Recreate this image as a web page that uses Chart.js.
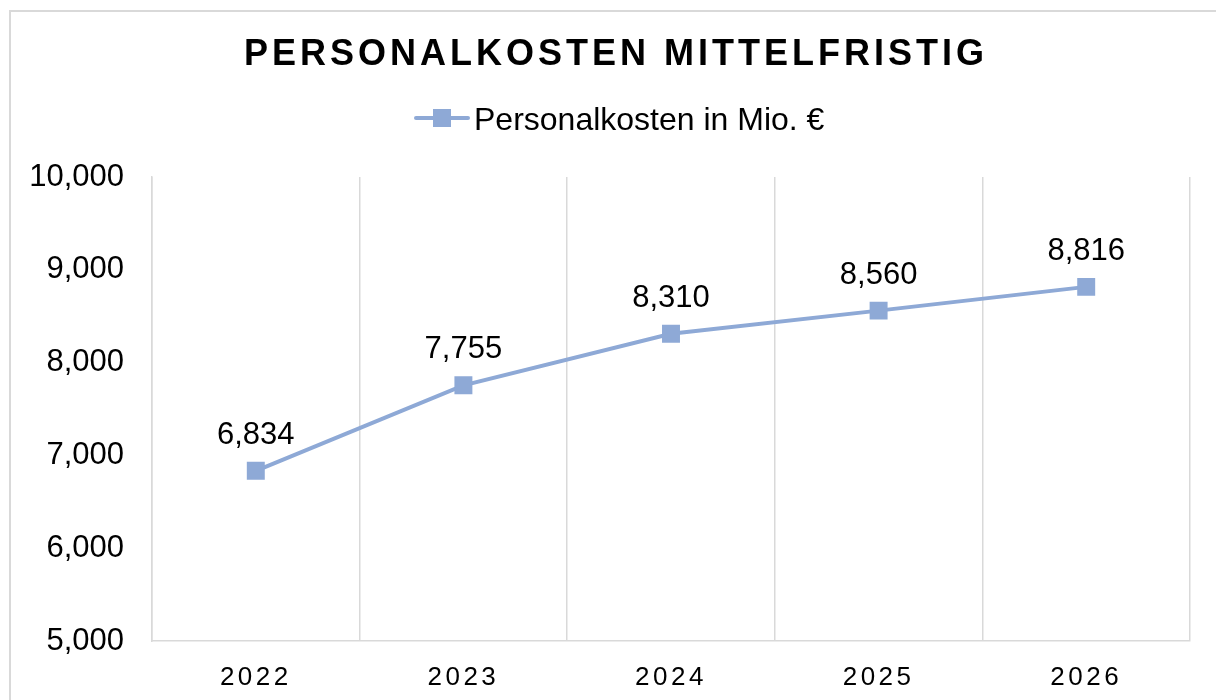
<!DOCTYPE html>
<html>
<head>
<meta charset="utf-8">
<script src="https://cdn.jsdelivr.net/npm/chart.js@4.4.1/dist/chart.umd.min.js"></script>
<style>
  html, body { margin: 0; padding: 0; background: #fff; overflow: hidden; }
  #frame { position: absolute; left: 9px; top: 10px; width: 1240px; height: 740px; border: 2px solid #d9d9d9; }
  #myChart { position: absolute; left: 0; top: 0; }
</style>
</head>
<body>
<div id="frame"></div>
<canvas id="myChart" width="1216" height="700"></canvas>
<script>
const years = ["2022", "2023", "2024", "2025", "2026"];
const personalkosten = [6834, 7755, 8310, 8560, 8816];
const yTicks = [5000, 6000, 7000, 8000, 9000, 10000];

const chartTitle = "PERSONALKOSTEN MITTELFRISTIG";
const seriesName = "Personalkosten in Mio. €";
const lineColor = "#8ea9d6";
const fontFamily = '"Liberation Sans", Arial, sans-serif';

function fmt(v) {
  return v.toLocaleString("en-US");
}

// title, legend, value labels and spaced x labels
const decorPlugin = {
  id: "decor",
  beforeDraw(chart) {
    const s = chart.scales.x;
    if (s && !s._spaced) {
      const orig = s.drawLabels.bind(s);
      s.drawLabels = function (area) {
        const c = this.ctx;
        c.save();
        c.letterSpacing = "3.5px";
        orig(area);
        c.restore();
      };
      s._spaced = true;
    }
  },
  afterDatasetsDraw(chart) {
    const ctx = chart.ctx;
    const meta = chart.getDatasetMeta(0);
    ctx.save();
    ctx.font = "31px " + fontFamily;
    ctx.fillStyle = "#000";
    ctx.textAlign = "center";
    ctx.textBaseline = "alphabetic";
    meta.data.forEach((pt, i) => {
      ctx.fillText(fmt(chart.data.datasets[0].data[i]), pt.x, pt.y - 27);
    });
    ctx.restore();
  },
  afterDraw(chart) {
    const ctx = chart.ctx;
    ctx.save();
    // title
    ctx.font = "bold 36px " + fontFamily;
    ctx.letterSpacing = "4px";
    ctx.fillStyle = "#000";
    ctx.textAlign = "center";
    ctx.textBaseline = "alphabetic";
    ctx.fillText(chartTitle, 616, 65);
    ctx.letterSpacing = "0px";

    // legend
    const ly = 118;
    ctx.strokeStyle = lineColor;
    ctx.lineWidth = 4;
    ctx.lineCap = "round";
    ctx.beginPath();
    ctx.moveTo(416, ly);
    ctx.lineTo(468, ly);
    ctx.stroke();
    ctx.fillStyle = lineColor;
    ctx.fillRect(433, ly - 9, 18, 18);
    ctx.fillStyle = "#000";
    ctx.font = "32px " + fontFamily;
    ctx.textAlign = "left";
    ctx.fillText(seriesName, 474, 130);
    ctx.restore();
  }
};

let ctx = document.getElementById("myChart").getContext("2d");

let myChart = new Chart(ctx, {
  type: "line",
  data: {
    labels: years,
    datasets: [
      {
        label: seriesName,
        data: personalkosten,
        borderColor: lineColor,
        backgroundColor: lineColor,
        borderWidth: 4,
        pointStyle: "rect",
        pointRadius: 12.7,
        pointBorderWidth: 0,
        tension: 0,
      },
    ],
  },
  options: {
    responsive: false,
    animation: false,
    layout: { padding: { top: 177, right: 26, bottom: 0, left: 0 } },
    plugins: {
      legend: { display: false },
      title: { display: false },
      tooltip: { enabled: false },
    },
    scales: {
      x: {
        offset: true,
        grid: { offset: true, color: "#d9d9d9", lineWidth: 1.5, drawTicks: false },
        border: { display: true, color: "#d9d9d9", width: 1.5 },
        ticks: { color: "#000", padding: 21, font: { family: fontFamily, size: 26 } },
        afterFit(scale) { scale.height = 59; },
      },
      y: {
        min: yTicks[0],
        max: yTicks[yTicks.length - 1],
        grid: { display: false, drawTicks: false },
        border: { display: true, color: "#d9d9d9", width: 1.5 },
        afterBuildTicks(scale) { scale.ticks = yTicks.map(v => ({ value: v })); },
        ticks: {
          color: "#000",
          padding: 28,
          font: { family: fontFamily, size: 31 },
          callback: (v) => fmt(v),
        },
        afterFit(scale) { scale.width = 152; },
      },
    },
  },
  plugins: [decorPlugin],
});
</script>
</body>
</html>
